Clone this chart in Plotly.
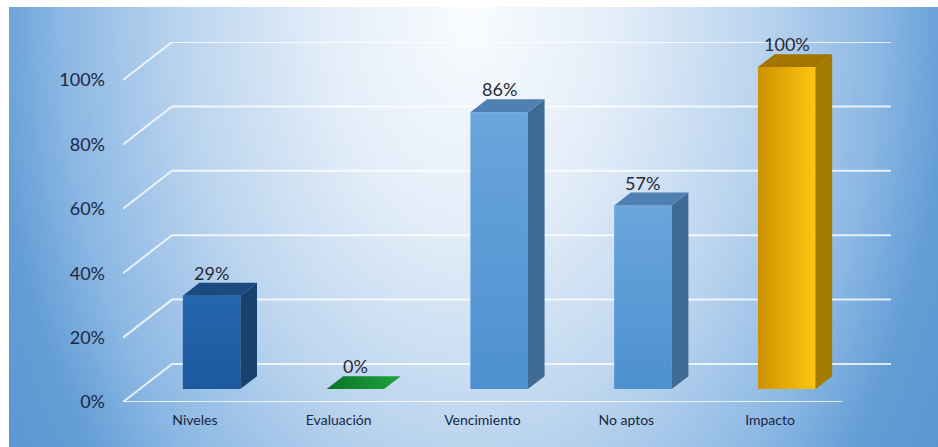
import base64
import struct
import zlib

import numpy as np
import plotly.graph_objects as go

# ---- data -------------------------------------------------------------
categories = ["Niveles", "Evaluación", "Vencimiento", "No aptos", "Impacto"]
percent = [29, 0, 86, 57, 100]
tick_values = [0, 20, 40, 60, 80, 100]
tick_labels = ["0%", "20%", "40%", "60%", "80%", "100%"]

# per-bar face colours: (front start, front end, top, side, gradient direction)
bar_palette = [
    ("#1c599d", "#2466ad", "#1b4a80", "#18416f", "vertical"),
    ("#0c7326", "#1ea23e", "#13862f", "#0f6a25", "horizontal"),
    ("#4d90d0", "#6aa5dc", "#4e80b2", "#3f6a94", "vertical"),
    ("#4d90d0", "#6aa5dc", "#4e80b2", "#3f6a94", "vertical"),
    ("#cc9200", "#ffc510", "#a27400", "#a27b00", "horizontal"),
]

# ---- pseudo 3-D geometry (axis units) ----------------------------------
DX, DY = 0.341, 0.118      # full floor depth projected on x / y
D0, D1 = 0.34, 0.68        # front / back depth of each bar
W = 0.40                   # bar width in category units
n = len(categories)
x_lo, x_hi = -0.5, n - 0.5 + DX
y_lo, y_hi = 0.0, 1.0 + DY

# plot area in pixels
FIG_W, FIG_H = 938, 447
ML, MR, MT, MB = 123, 47, 42, 45
plot_w = FIG_W - ML - MR
plot_h = FIG_H - MT - MB


def png_data_uri(rgb):
    h, w, _ = rgb.shape
    raw = b"".join(b"\x00" + rgb[i].tobytes() for i in range(h))

    def chunk(tag, data):
        body = tag + data
        return struct.pack(">I", len(data)) + body + struct.pack(">I", zlib.crc32(body) & 0xFFFFFFFF)

    ihdr = struct.pack(">IIBBBBB", w, h, 8, 2, 0, 0, 0)
    png = b"\x89PNG\r\n\x1a\n" + chunk(b"IHDR", ihdr) + chunk(b"IDAT", zlib.compress(raw, 9)) + chunk(b"IEND", b"")
    return "data:image/png;base64," + base64.b64encode(png).decode()


# radial blue background of the chart area
bg_x0, bg_y0 = 9, 7
bg_w, bg_h = FIG_W - bg_x0, FIG_H - bg_y0
yy, xx = np.mgrid[0:bg_h, 0:bg_w].astype(float)
r = np.sqrt(((xx - (470 - bg_x0)) / 480.0) ** 2 + ((yy - (10 - bg_y0)) / 720.0) ** 2)
stops_t = [0.0, 0.3, 0.6, 0.85, 1.0, 1.2]
stops_c = np.array([
    [250, 252, 255],
    [228, 238, 249],
    [188, 213, 239],
    [140, 184, 228],
    [100, 158, 214],
    [88, 148, 208],
], dtype=float)
rgb = np.stack([np.interp(r, stops_t, stops_c[:, k]) for k in range(3)], axis=-1)
bg_uri = png_data_uri(np.clip(rgb, 0, 255).astype(np.uint8))

fig = go.Figure()

# gridlines: left diagonal + back wall line for each level, plus front floor edge
grid_col = "rgba(255,255,255,0.78)"
for tv in tick_values:
    lv = tv / 100
    fig.add_trace(go.Scatter(
        x=[-0.5, -0.5 + DX, n - 0.5 + DX], y=[lv, lv + DY, lv + DY],
        mode="lines", line=dict(color=grid_col, width=2),
        hoverinfo="skip", showlegend=False,
    ))
fig.add_trace(go.Scatter(
    x=[-0.5, n - 0.5], y=[0, 0], mode="lines",
    line=dict(color=grid_col, width=2), hoverinfo="skip", showlegend=False,
))


def face(xs, ys, color=None, grad=None, direction="horizontal"):
    kw = dict(x=xs + [xs[0]], y=ys + [ys[0]], mode="lines", fill="toself",
              line=dict(width=0, color="rgba(0,0,0,0)"),
              hoverinfo="skip", showlegend=False)
    if grad is not None:
        kw["fillgradient"] = dict(type=direction, colorscale=[[0, grad[0]], [1, grad[1]]])
    else:
        kw["fillcolor"] = color
    fig.add_trace(go.Scatter(**kw))


sx, sy = (D1 - D0) * DX, (D1 - D0) * DY
for i, (pct, pal) in enumerate(zip(percent, bar_palette)):
    v = pct / 100
    x0 = i - W / 2 + D0 * DX
    x1 = i + W / 2 + D0 * DX
    yb = D0 * DY
    yt = v + D0 * DY
    if v > 0:
        face([x0, x1, x1, x0], [yb, yb, yt, yt], grad=(pal[0], pal[1]), direction=pal[4])
        face([x1, x1 + sx, x1 + sx, x1], [yb, yb + sy, yt + sy, yt], color=pal[3])
        face([x0, x1, x1 + sx, x0 + sx], [yt, yt, yt + sy, yt + sy], color=pal[2])
    else:
        face([x0, x1, x1 + sx, x0 + sx], [yt, yt, yt + sy, yt + sy], grad=(pal[0], pal[1]))
    fig.add_annotation(
        x=i + D0 * DX, y=v + D1 * DY, text=f"{pct}%", showarrow=False,
        xanchor="center", yanchor="bottom", yshift=-3,
        font=dict(family="Lato, Calibri, sans-serif", size=18, color="#262a33"),
    )

fig.update_layout(
    width=FIG_W, height=FIG_H, autosize=False,
    margin=dict(l=ML, r=MR, t=MT, b=MB, pad=0),
    paper_bgcolor="white", plot_bgcolor="rgba(0,0,0,0)",
    images=[dict(
        source=bg_uri, xref="paper", yref="paper",
        x=(bg_x0 - ML) / plot_w, y=(FIG_H - MB - bg_y0) / plot_h,
        sizex=bg_w / plot_w, sizey=bg_h / plot_h,
        xanchor="left", yanchor="top", sizing="stretch", layer="below",
    )],
    xaxis=dict(
        range=[x_lo, x_hi], showgrid=False, zeroline=False, showline=False,
        tickvals=list(range(n)), ticktext=categories, ticks="",
        ticklabelstandoff=8,
        tickfont=dict(family="Lato, Calibri, sans-serif", size=14, color="#1a2743"),
        fixedrange=True,
    ),
    yaxis=dict(
        range=[y_lo, y_hi], showgrid=False, zeroline=False, showline=False,
        tickvals=[t / 100 for t in tick_values], ticktext=tick_labels, ticks="",
        ticklabelstandoff=17,
        tickfont=dict(family="Lato, Calibri, sans-serif", size=18, color="#1c2842"),
        fixedrange=True,
    ),
)

fig.write_html("out.html")
